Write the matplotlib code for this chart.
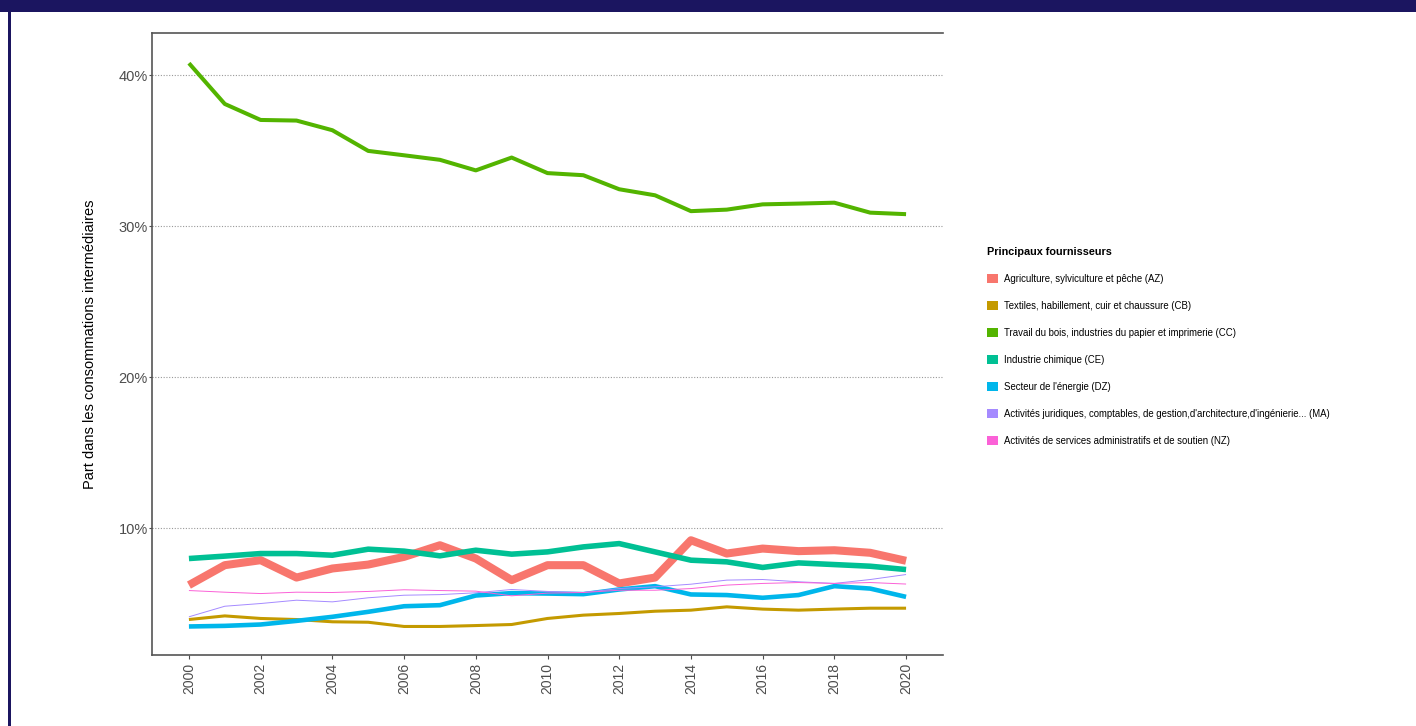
import matplotlib
matplotlib.use("Agg")
import matplotlib.pyplot as plt
from matplotlib.patches import Patch, Rectangle
from matplotlib.ticker import FuncFormatter

plt.rcParams["font.family"] = ["Liberation Sans", "DejaVu Sans"]

# --- data (part en %) ---
years = list(range(2000, 2021))
labels = [
    "Agriculture, sylviculture et pêche (AZ)",
    "Textiles, habillement, cuir et chaussure (CB)",
    "Travail du bois, industries du papier et imprimerie (CC)",
    "Industrie chimique (CE)",
    "Secteur de l'énergie (DZ)",
    "Activités juridiques, comptables, de gestion,d'architecture,d'ingénierie... (MA)",
    "Activités de services administratifs et de soutien (NZ)",
]
az = [6.23, 7.55, 7.88, 6.73, 7.33, 7.59, 8.10, 8.87, 7.99, 6.56, 7.55,
      7.55, 6.34, 6.73, 9.20, 8.32, 8.65, 8.48, 8.54, 8.37, 7.84]
cb = [3.95, 4.19, 4.02, 3.95, 3.80, 3.77, 3.49, 3.49, 3.55, 3.62, 4.02,
      4.24, 4.35, 4.50, 4.57, 4.79, 4.64, 4.57, 4.64, 4.70, 4.70]
cc = [40.80, 38.10, 37.04, 37.00, 36.36, 34.99, 34.70, 34.40, 33.70, 34.55, 33.52,
      33.38, 32.45, 32.05, 31.00, 31.10, 31.45, 31.50, 31.56, 30.90, 30.80]
ce = [7.99, 8.15, 8.32, 8.32, 8.21, 8.61, 8.48, 8.17, 8.54, 8.28, 8.43,
      8.76, 8.98, 8.43, 7.88, 7.77, 7.40, 7.70, 7.59, 7.48, 7.26]
dz = [3.49, 3.53, 3.62, 3.86, 4.13, 4.46, 4.83, 4.90, 5.54, 5.70, 5.67,
      5.63, 5.94, 6.16, 5.61, 5.57, 5.39, 5.57, 6.16, 6.00, 5.45]
ma = [4.13, 4.83, 5.01, 5.23, 5.12, 5.39, 5.56, 5.60, 5.72, 5.94, 5.81,
      5.74, 6.00, 6.12, 6.29, 6.56, 6.60, 6.45, 6.34, 6.60, 6.93]
nz = [5.87, 5.76, 5.67, 5.76, 5.74, 5.81, 5.92, 5.87, 5.83, 5.52, 5.70,
      5.74, 5.89, 5.89, 6.00, 6.23, 6.34, 6.40, 6.34, 6.40, 6.30]
series = [az, cb, cc, ce, dz, ma, nz]

colors = ["#F8766D", "#C49A00", "#53B400", "#00C094", "#00B6EB", "#A58AFF", "#FB61D7"]
widths = [5.8, 2.2, 2.9, 4.0, 3.3, 0.7, 0.7]

fig = plt.figure(figsize=(14.16, 7.26), dpi=100)
ax = fig.add_axes([152/1416, 1-655/726, (943-152)/1416, (655-33)/726])

for vals, c, lw in zip(series, colors, widths):
    ax.plot(years, vals, color=c, lw=lw, solid_capstyle="butt", solid_joinstyle="round")

ax.set_xlim(1998.97, 2021.03)
ax.set_ylim(1.6, 42.8)
ax.set_xticks(range(2000, 2021, 2))
ax.set_yticks([10, 20, 30, 40])
ax.yaxis.set_major_formatter(FuncFormatter(lambda v, p: f"{v:.0f}%"))
ax.tick_params(axis="x", labelrotation=90, labelsize=10, colors="#4d4d4d", length=3, width=0.8, pad=2.5)
ax.tick_params(axis="y", labelsize=10.5, colors="#4d4d4d", length=2.5, width=0.8, pad=0.5)
ax.grid(axis="y", color="#999999", linestyle=(0, (1, 1.5)), lw=0.8)
ax.set_axisbelow(True)
for s in ["left", "bottom", "top"]:
    ax.spines[s].set_color("#555555")
    ax.spines[s].set_linewidth(1.2)
ax.spines["right"].set_visible(False)
ax.set_ylabel("Part dans les consommations intermédiaires", fontsize=10.5, labelpad=15.5)

handles = [Patch(facecolor=c, edgecolor="none") for c in colors]
leg = fig.legend(handles, labels, loc="upper left", bbox_to_anchor=(982/1416, 1-242/726),
                 frameon=False, fontsize=6.9, title="Principaux fournisseurs",
                 title_fontproperties={"weight": "bold", "size": 7.8},
                 handlelength=1.2, handleheight=1.0, handletextpad=0.6,
                 labelspacing=1.77, borderpad=0, alignment="left")

# cadre bleu marine en haut et à gauche
fig.patches.append(Rectangle((0, 1-12/726), 1, 12/726, transform=fig.transFigure,
                             facecolor="#1b1560", edgecolor="none"))
fig.patches.append(Rectangle((8/1416, 0), 3/1416, 1, transform=fig.transFigure,
                             facecolor="#1b1560", edgecolor="none"))

fig.savefig("out.png", dpi=100)
